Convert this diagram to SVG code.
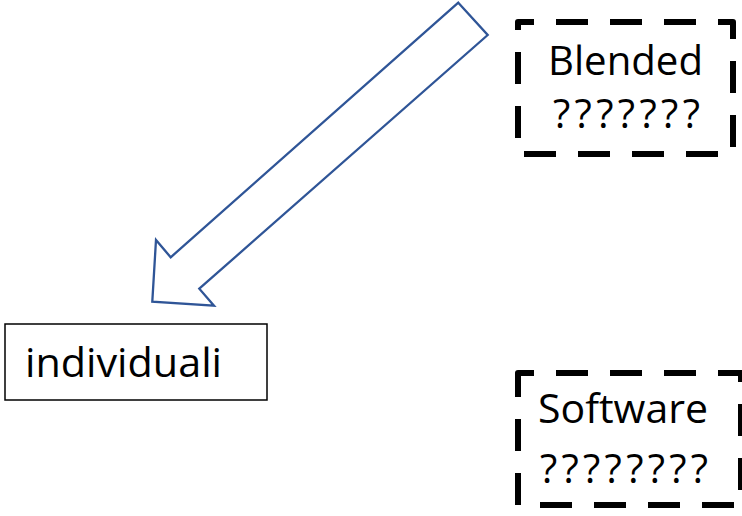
<svg xmlns="http://www.w3.org/2000/svg" width="742" height="516" viewBox="0 0 742 516">
<style>
text{font-family:"Open Sans","Noto Sans",sans-serif;font-size:40px;fill:#000}
.dash{fill:#fff;stroke:#000;stroke-width:6;stroke-dasharray:32 22;stroke-linejoin:round}
</style>
<rect width="742" height="516" fill="#fff"/>
<g id="connectors">
<polygon points="458.3,2.7 487.7,35 199.3,288.7 214,305.7 152.3,301.7 156,240 170.7,257.3" fill="#fff" stroke="#2f5597" stroke-width="2.3" stroke-linejoin="miter"/>
</g>
<g id="blended">
<rect class="dash" x="518" y="22" width="215" height="132" stroke-dashoffset="16"/>
<text x="548" y="75" textLength="155" lengthAdjust="spacingAndGlyphs">Blended</text>
<text x="553" y="128" textLength="147" lengthAdjust="spacing">???????</text>
</g>
<g id="individuali">
<rect x="5" y="324" width="262" height="76" fill="#fff" stroke="#000" stroke-width="1.5"/>
<text x="25" y="377" textLength="197" lengthAdjust="spacingAndGlyphs">individuali</text>
</g>
<g id="software">
<rect class="dash" x="518" y="373" width="223" height="132" stroke-dashoffset="16"/>
<text x="538" y="423" textLength="170" lengthAdjust="spacingAndGlyphs">Software</text>
<text x="540" y="483" textLength="168" lengthAdjust="spacing">????????</text>
</g>
</svg>
